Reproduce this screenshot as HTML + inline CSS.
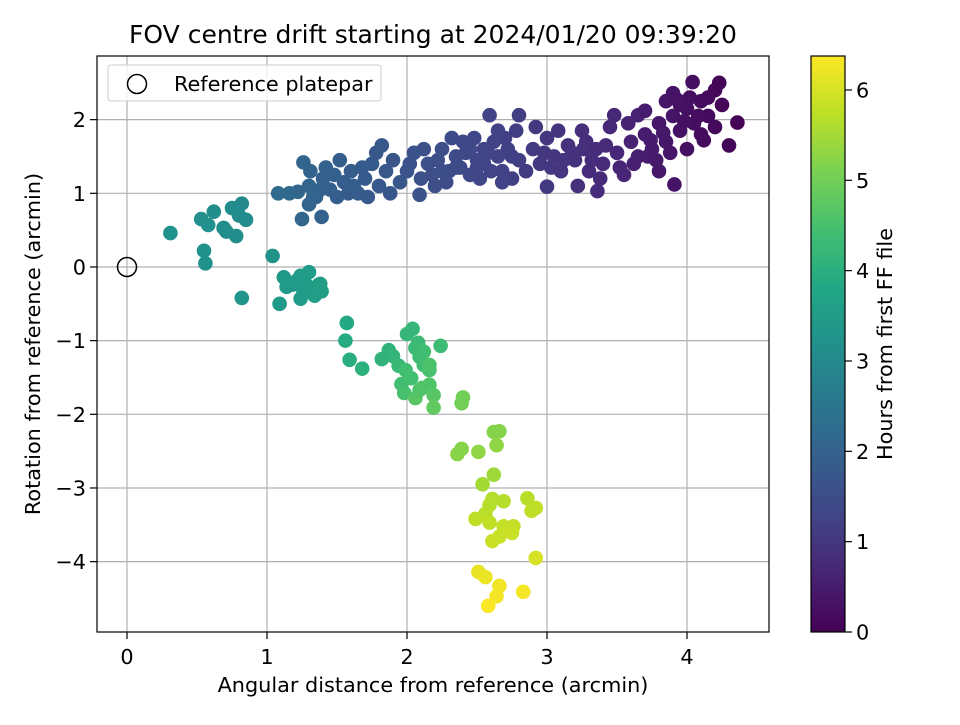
<!DOCTYPE html>
<html><head><meta charset="utf-8"><style>
body{margin:0;background:#fff;}
svg text{font-family:"DejaVu Sans","Liberation Sans",sans-serif;fill:#000;}
</style></head><body>
<svg id="chart" width="960" height="720" viewBox="0 0 960 720">
<defs>
<linearGradient id="vir" x1="0" y1="1" x2="0" y2="0">
<stop offset="0" stop-color="#440154"/><stop offset="0.1" stop-color="#482475"/><stop offset="0.2" stop-color="#414487"/><stop offset="0.3" stop-color="#355f8d"/><stop offset="0.4" stop-color="#2a788e"/><stop offset="0.5" stop-color="#21918c"/><stop offset="0.6" stop-color="#22a884"/><stop offset="0.7" stop-color="#44bf70"/><stop offset="0.8" stop-color="#7ad151"/><stop offset="0.9" stop-color="#bddf26"/><stop offset="1" stop-color="#fde725"/>
</linearGradient>
<clipPath id="clip"><rect x="97" y="56" width="672" height="576"/></clipPath>
</defs>
<text x="433" y="43" font-size="25" text-anchor="middle">FOV centre drift starting at 2024/01/20 09:39:20</text>
<g id="grid"></g>
<g id="pts" clip-path="url(#clip)"></g>
<circle cx="127" cy="267" r="9.5" fill="none" stroke="#000" stroke-width="1.5"/>
<rect x="97" y="56" width="672" height="576" fill="none" stroke="#000" stroke-width="1.2"/>
<g id="xt"></g>
<g id="yt"></g>
<text x="433" y="692" font-size="20.8" text-anchor="middle">Angular distance from reference (arcmin)</text>
<text transform="translate(40,344) rotate(-90)" font-size="20.8" text-anchor="middle">Rotation from reference (arcmin)</text>
<g>
<rect x="108" y="65" width="273" height="36" rx="3" fill="#fff" fill-opacity="0.8" stroke="#ccc"/>
<circle cx="137" cy="84" r="9.5" fill="none" stroke="#000" stroke-width="1.5"/>
<text x="174" y="91" font-size="20.8">Reference platepar</text>
</g>
<rect x="811" y="56" width="34" height="576" fill="url(#vir)" stroke="#000" stroke-width="1.2"/>
<g id="ct"></g>
<text transform="translate(892,344) rotate(-90)" font-size="20.8" text-anchor="middle">Hours from first FF file</text>
</svg>
<script>
const xTicks=[0,1,2,3,4];
const yTicks=[-4,-3,-2,-1,0,1,2];
const cTicks=[0,1,2,3,4,5,6];
const xs=[0.31,0.53,0.62,0.58,0.69,0.75,0.78,0.82,0.85,0.55,0.56,0.82,0.8,0.71,
1.04,1.09,1.12,1.14,1.21,1.24,1.24,1.30,1.28,1.34,1.37,1.39,1.38,1.26,1.18,
1.57,1.56,1.59,1.68,1.82,1.87,1.9,1.94,1.96,1.98,2.0,2.04,2.06,2.08,2.09,2.12,2.16,1.99,2.03,2.06,2.09,2.11,2.16,2.19,2.19,2.24,2.12,2.16,
2.4,2.39,2.36,2.39,2.51,2.62,2.66,2.64,2.62,2.54,2.61,2.59,2.69,2.56,2.59,2.49,2.61,2.66,2.69,2.73,2.76,2.75,2.86,2.89,2.92,2.92,2.51,2.56,2.66,2.64,2.58,2.83,
1.22,1.3,1.35,1.4,1.45,1.5,1.55,1.6,1.65,1.7,1.75,1.8,1.3,1.42,1.52,1.62,1.72,1.78,1.85,1.38,1.48,1.58,1.68,1.82,1.9,1.95,2.0,1.88,1.26,1.31,1.25,1.39,1.08,1.16,1.33,
2.05,2.1,2.15,2.2,2.25,2.3,2.35,2.4,2.45,2.5,2.55,2.6,2.65,2.7,2.75,2.8,2.09,2.12,2.18,2.22,2.28,2.32,2.38,2.42,2.48,2.52,2.58,2.59,2.62,2.68,2.72,2.78,2.8,2.85,2.68,2.02,2.5,2.45,2.55,2.35,2.25,2.75,2.65,
2.9,2.95,3.0,3.0,3.05,3.1,3.15,3.2,3.25,3.3,3.35,3.4,3.45,3.5,3.55,3.6,3.36,3.22,3.08,2.92,3.18,3.28,3.42,3.48,3.12,2.98,3.32,3.52,3.58,3.26,3.03,3.38,3.65,
3.65,3.7,3.7,3.75,3.8,3.8,3.85,3.85,3.9,3.9,3.91,3.95,3.95,4.0,4.0,4.04,4.05,4.1,4.1,4.15,4.15,4.2,4.2,4.23,4.25,4.3,4.36,3.74,3.78,3.88,3.98,4.08,4.12,3.93,4.02,3.62,3.72,3.83];
const ys=[0.46,0.65,0.75,0.57,0.53,0.80,0.42,0.86,0.64,0.22,0.05,-0.42,0.7,0.48,
0.15,-0.50,-0.14,-0.27,-0.19,-0.43,-0.12,-0.07,-0.24,-0.39,-0.24,-0.33,-0.23,-0.34,-0.24,
-0.76,-1.0,-1.26,-1.38,-1.25,-1.13,-1.21,-1.34,-1.59,-1.71,-0.91,-0.84,-1.1,-1.03,-1.22,-1.33,-1.4,-1.4,-1.51,-1.78,-1.67,-1.64,-1.6,-1.74,-1.91,-1.07,-1.15,-1.33,
-1.77,-1.85,-2.54,-2.47,-2.51,-2.24,-2.23,-2.42,-2.82,-2.95,-3.15,-3.23,-3.18,-3.35,-3.47,-3.42,-3.72,-3.66,-3.52,-3.57,-3.52,-3.61,-3.14,-3.31,-3.27,-3.95,-4.14,-4.21,-4.33,-4.47,-4.6,-4.41,
1.02,1.1,0.95,1.2,1.05,0.95,1.15,1.3,1.0,1.2,1.4,1.1,0.85,1.35,1.45,1.1,0.95,1.55,1.3,1.05,1.25,1.0,1.35,1.65,1.45,1.15,1.3,1.0,1.42,1.3,0.65,0.68,1.0,1.0,0.95,
1.55,1.2,1.4,1.1,1.6,1.3,1.5,1.7,1.25,1.45,1.6,1.3,1.5,1.75,1.2,1.45,0.98,1.6,1.25,1.45,1.15,1.75,1.35,1.55,1.75,1.2,1.55,2.06,1.7,1.3,1.6,1.85,2.06,1.3,1.15,1.4,1.35,1.6,1.4,1.35,1.3,1.5,1.85,
1.6,1.4,1.09,1.75,1.5,1.3,1.65,1.45,1.85,1.3,1.6,1.4,1.9,1.55,1.25,1.7,1.03,1.1,1.85,1.9,1.55,1.7,1.65,2.06,1.45,1.55,1.45,1.35,1.95,1.6,1.35,1.2,2.06,
1.5,1.8,2.12,1.6,1.95,1.3,2.25,1.7,2.36,2.05,1.12,1.85,2.2,2.15,1.6,2.51,1.95,2.25,1.8,2.05,2.3,1.9,2.4,2.5,2.2,1.65,1.96,1.72,1.45,1.55,1.98,2.05,1.72,2.27,2.3,1.4,1.5,1.82];
const hours=[3.2,3.15,3.1,3.15,3.1,3.05,3.1,3.0,3.05,3.2,3.2,3.3,3.05,3.1,
3.25,3.45,3.4,3.45,3.45,3.5,3.45,3.5,3.5,3.55,3.55,3.55,3.55,3.5,3.45,
3.85,3.9,4.0,4.05,4.1,4.1,4.15,4.25,4.4,4.5,4.2,4.2,4.3,4.3,4.35,4.4,4.5,4.4,4.45,4.7,4.6,4.6,4.6,4.7,4.8,4.35,4.4,4.55,
5.0,5.0,5.25,5.2,5.3,5.2,5.2,5.3,5.45,5.5,5.65,5.65,5.65,5.7,5.75,5.75,5.85,5.85,5.8,5.85,5.8,5.85,5.7,5.75,5.75,6.0,6.15,6.2,6.25,6.3,6.35,6.3,
2.1,2.05,2.0,1.95,1.95,1.9,1.9,1.85,1.85,1.8,1.8,1.75,2.05,1.95,1.9,1.85,1.8,1.75,1.75,2.0,1.95,1.85,1.8,1.75,1.7,1.7,1.65,1.7,2.05,2.05,2.1,2.0,2.2,2.15,2.05,
1.6,1.55,1.55,1.5,1.5,1.45,1.45,1.4,1.4,1.35,1.3,1.3,1.25,1.2,1.2,1.15,1.6,1.55,1.5,1.5,1.45,1.45,1.4,1.4,1.35,1.35,1.3,1.3,1.25,1.25,1.2,1.15,1.15,1.1,1.25,1.6,1.35,1.4,1.3,1.45,1.5,1.2,1.25,
1.1,1.05,1.05,1.0,1.0,0.95,0.9,0.9,0.85,0.8,0.8,0.75,0.7,0.7,0.65,0.6,0.8,0.85,0.95,1.05,0.9,0.8,0.75,0.7,0.95,1.0,0.8,0.68,0.62,0.85,1.0,0.78,0.6,
0.55,0.5,0.5,0.45,0.42,0.42,0.38,0.38,0.34,0.34,0.34,0.3,0.3,0.27,0.27,0.24,0.24,0.2,0.2,0.17,0.17,0.14,0.14,0.1,0.1,0.07,0.04,0.48,0.44,0.36,0.28,0.21,0.18,0.32,0.26,0.56,0.5,0.4];
const X0=-0.2143,X1=4.5857,Y0=-4.955,Y1=2.864,C1=6.376;
const L=97,R=769,T=56,B=632;
function sx(v){return L+(v-X0)/(X1-X0)*(R-L);}
function sy(v){return B-(v-Y0)/(Y1-Y0)*(B-T);}
function sc(v){return B-v/C1*(B-T);}
const stops=[[68,1,84],[72,36,117],[65,68,135],[53,95,141],[42,120,142],[33,145,140],[34,168,132],[68,191,112],[122,209,81],[189,223,38],[253,231,37]];
function vir(h){let t=Math.max(0,Math.min(1,h/C1))*10;let i=Math.min(9,Math.floor(t));let f=t-i;const a=stops[i],b=stops[i+1];return 'rgb('+a.map((c,k)=>Math.round(c+(b[k]-c)*f)).join(',')+')';}
const NS='http://www.w3.org/2000/svg';
function mk(tag,attrs,parent){const e=document.createElementNS(NS,tag);for(const k in attrs)e.setAttribute(k,attrs[k]);parent.appendChild(e);return e;}
const grid=document.getElementById('grid'),xt=document.getElementById('xt'),yt=document.getElementById('yt'),ct=document.getElementById('ct'),pts=document.getElementById('pts');
xTicks.forEach(v=>{const x=sx(v);
const g=mk('line',{x1:x,x2:x,y1:T,y2:B,stroke:'#b0b0b0','stroke-width':1.2},grid);


const tk=mk('line',{x1:x,x2:x,y1:B,y2:B+7,stroke:'#000','stroke-width':1.2},xt);


const t=mk('text',{x:x,y:B+32,'font-size':20.8,'text-anchor':'middle'},xt);t.textContent=String(v);

});
yTicks.forEach(v=>{const y=sy(v);
const g=mk('line',{x1:L,x2:R,y1:y,y2:y,stroke:'#b0b0b0','stroke-width':1.2},grid);


const tk=mk('line',{x1:L-7,x2:L,y1:y,y2:y,stroke:'#000','stroke-width':1.2},yt);


const t=mk('text',{x:L-11,y:y+7.5,'font-size':20.8,'text-anchor':'end'},yt);t.textContent=(v<0?'\u2212'+(-v):String(v));

});
cTicks.forEach(v=>{const y=sc(v);
const tk=mk('line',{x1:845,x2:852,y1:y,y2:y,stroke:'#000','stroke-width':1.2},ct);


const t=mk('text',{x:856,y:y+7.5,'font-size':20.8},ct);t.textContent=String(v);

});
for(let i=0;i<xs.length;i++){
const c=mk('circle',{cx:sx(xs[i]),cy:sy(ys[i]),r:7.3,fill:vir(hours[i])},pts);

}
</script>
</body></html>
